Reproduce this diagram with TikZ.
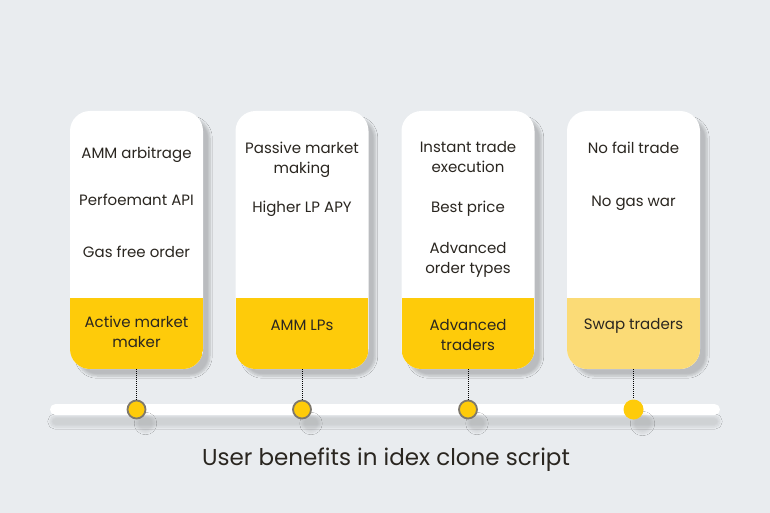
\documentclass[tikz,border=0pt]{standalone}
\usepackage{fontspec}
\setmainfont{Poppins}
\usetikzlibrary{shadows.blur}
\definecolor{bgcol}{HTML}{E9ECEF}
\definecolor{gold}{HTML}{FECB0A}
\definecolor{palegold}{HTML}{FBDB76}
\definecolor{ink}{HTML}{2A2620}
\definecolor{pin}{HTML}{7E786C}
\tikzset{
  card/.style={rounded corners=20pt, fill=white, minimum width=133pt, minimum height=258pt, inner sep=0pt,
    blur shadow={shadow xshift=7pt, shadow yshift=-7pt, shadow blur steps=8, shadow opacity=20},
    path picture={\fill[#1, sharp corners] (path picture bounding box.south west) rectangle ([yshift=71pt]path picture bounding box.south east);}},
  perk/.style={font=\fontsize{15}{20}\selectfont, text=ink, align=center},
  dot/.style={circle, fill=gold, minimum size=18pt, inner sep=0pt, draw=pin, line width=1.8pt,
    blur shadow={shadow xshift=9pt, shadow yshift=-14pt, shadow blur steps=6, shadow opacity=9}},
  pinline/.style={pin, densely dotted, line width=1pt}
}
\begin{document}
\begin{tikzpicture}[x=1pt,y=-1pt]
        \fill[bgcol] (0,0) rectangle (770,513);
        \node[fill=white, rounded corners=5.5pt, minimum width=670pt, minimum height=11pt, inner sep=0pt,
          blur shadow={shadow xshift=0pt, shadow yshift=-12pt, shadow blur steps=8, shadow opacity=11}] (bar) at (385,409.5) {};

        \node[card=gold] (card1) at (136.5,240) {};
        \node[card=gold] (card2) at (302,240) {};
        \node[card=gold] (card3) at (468,240) {};
        \node[card=palegold] (card4) at (633.5,240) {};

        % benefits
        \node[perk] (a1) at (136.5,155) {AMM arbitrage};
        \node[perk] (a2) at (136.5,200) {Perfoemant API};
        \node[perk] (a3) at (136.5,252) {Gas free order};
        \node[perk] (b1) at (302,160) {Passive market\\making};
        \node[perk] (b2) at (302,209) {Higher LP APY};
        \node[perk] (c1) at (468,157) {Instant trade\\execution};
        \node[perk] (c2) at (468,209) {Best price};
        \node[perk] (c3) at (468,260) {Advanced\\order types};
        \node[perk] (d1) at (633.5,148) {No fail trade};
        \node[perk] (d2) at (633.5,203) {No gas war};

        % users
        \node[perk] (u1) at (136.5,332) {Active market\\maker};
        \node[perk] (u2) at (302,325) {AMM LPs};
        \node[perk] (u3) at (468,335) {Advanced\\traders};
        \node[perk] (u4) at (633.5,326) {Swap traders};

        \node[dot] (dot1) at (136.5,409.5) {};
        \node[dot] (dot2) at (302,409.5) {};
        \node[dot] (dot3) at (468,409.5) {};
        \node[dot, draw=none, minimum size=20pt] (dot4) at (633.5,409.5) {};

        \draw[pinline] (card1) -- (dot1);
        \draw[pinline] (card2) -- (dot2);
        \draw[pinline] (card3) -- (dot3);
        \draw[pinline] (card4) -- (dot4);

        \node[font=\fontsize{23}{28}\selectfont, text=ink] (title) at (386,460) {User benefits in idex clone script};
    \end{tikzpicture}
\end{document}
